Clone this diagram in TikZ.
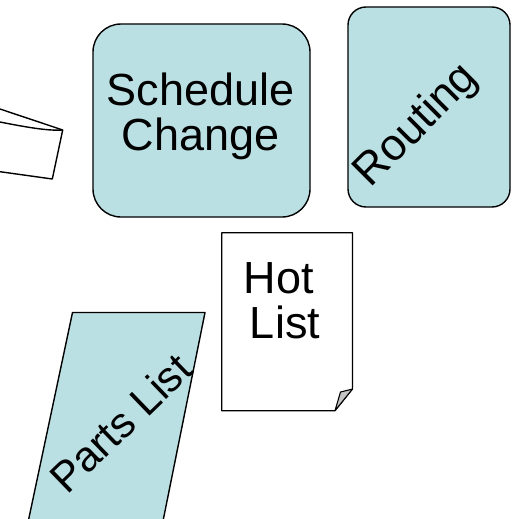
\documentclass[tikz,border=0pt]{standalone}
\usepackage{fontspec}
\setmainfont{Liberation Sans}
\definecolor{boxblue}{HTML}{BBE0E3}
\definecolor{foldgray}{HTML}{C4C4C4}
\begin{document}
\begin{tikzpicture}[x=1pt,y=-1pt,
  outl/.style={draw=black,line width=1.4pt,line join=round},
  bluebox/.style={outl,fill=boxblue},
  bigtext/.style={font=\fontsize{45}{45}\selectfont,inner sep=0pt,align=center},
  rottext/.style={font=\fontsize{44.5}{44.5}\selectfont,inner sep=0pt}]
\useasboundingbox (0,0) rectangle (515,519);
% left cut-off shape
\draw[outl,fill=white] (0,109) -- (62.7,130) -- (52.3,179) -- (0,171.7);
\draw[outl] (0,122) .. controls (30,128) and (50,131) .. (62.7,130);
% Schedule Change
\node[bluebox,rounded corners=28pt,minimum width=217pt,minimum height=193pt] (sched) at (201.5,120.5) {};
\node[bigtext] (schedtxt) at (200.5,116) {Schedule\\Change};
% Routing
\node[bluebox,rounded corners=18pt,minimum width=162pt,minimum height=200pt] (rout) at (429,107) {};
\node[rottext,rotate=45] (routtxt) at (417,126) {Routing};
% Hot List document
\coordinate (dtl) at (221.7,232.7);
\coordinate (dtr) at (352.5,232.7);
\coordinate (dfr) at (352.5,389);
\coordinate (dfb) at (335,410.7);
\coordinate (dbl) at (221.7,410.7);
\coordinate (dfi) at (340.5,392);
\draw[outl,line width=1.1pt,fill=white] (dtl) -- (dtr) -- (dfr) -- (dfb) -- (dbl) -- cycle;
\draw[outl,line width=1.1pt,fill=foldgray] (dfr) -- (dfi) -- (dfb) -- cycle;
\node[bigtext] (hot) at (285,301) {Hot\kern12pt\\List};
% Parts List parallelogram
\coordinate (ptl) at (72.5,312.5);
\coordinate (ptr) at (205,312.5);
\coordinate (pbr) at (163,521);
\coordinate (pbl) at (28.3,521);
\draw[bluebox] (ptl) -- (ptr) -- (pbr) -- (pbl) -- cycle;
\node[rottext,font=\fontsize{42.5}{42.5}\selectfont,rotate=44] (parts) at (120.5,423) {Parts List};
\end{tikzpicture}
\end{document}
